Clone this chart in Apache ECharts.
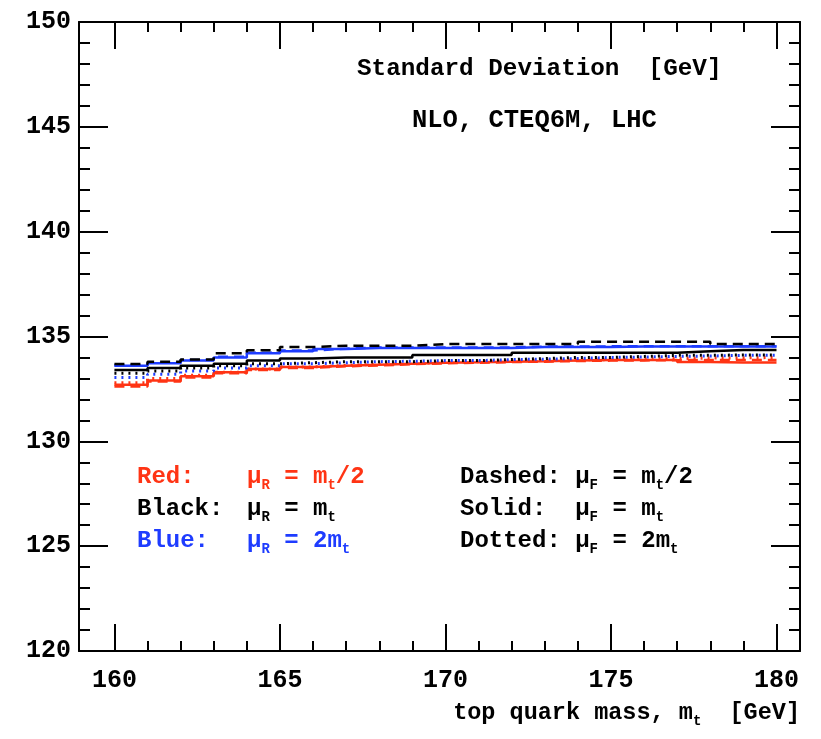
<!DOCTYPE html>
<html>
<head>
<meta charset="utf-8">
<script src="https://cdn.jsdelivr.net/npm/echarts@6/dist/echarts.min.js"></script>
<style>html,body{margin:0;padding:0;background:#fff}#c{width:821px;height:739px}</style>
</head>
<body>
<div id="c"></div>
<script>
// top quark mass (GeV)
const masses = [160,161,162,163,164,165,166,167,168,169,170,171,172,173,174,175,176,177,178,179,180];
// standard deviation (GeV); colour = mu_R choice, style = mu_F choice
const blackDashed = [133.69,133.80,133.90,134.20,134.35,134.50,134.56,134.56,134.56,134.64,134.64,134.64,134.64,134.64,134.75,134.75,134.75,134.75,134.64,134.64,134.64];
const blueSolid   = [133.60,133.72,133.85,134.00,134.20,134.30,134.40,134.45,134.45,134.45,134.45,134.45,134.50,134.50,134.50,134.52,134.52,134.52,134.52,134.52,134.52];
const blueDashed  = [133.63,133.75,133.88,134.03,134.22,134.33,134.42,134.47,134.47,134.47,134.47,134.48,134.52,134.52,134.53,134.54,134.54,134.54,134.54,134.54,134.54];
const blackSolid  = [133.40,133.50,133.60,133.70,133.85,133.95,134.00,134.00,134.00,134.12,134.12,134.12,134.23,134.23,134.23,134.23,134.23,134.30,134.36,134.36,134.36];
const blackDotted = [133.25,133.35,133.50,133.60,133.70,133.75,133.80,133.80,133.80,133.85,133.85,133.90,133.95,134.00,134.00,134.05,134.10,134.10,134.12,134.12,134.12];
const blueDotted  = [133.05,133.20,133.35,133.50,133.60,133.70,133.75,133.80,133.82,133.85,133.85,133.90,133.92,133.95,134.00,134.02,134.05,134.07,134.10,134.10,134.10];
const redSolid    = [132.70,132.90,133.10,133.30,133.45,133.55,133.60,133.65,133.70,133.75,133.77,133.80,133.82,133.85,133.88,133.88,133.88,133.78,133.76,133.76,133.76];
const redDashed   = [132.62,132.85,133.05,133.25,133.40,133.50,133.58,133.62,133.68,133.72,133.75,133.78,133.80,133.83,133.85,133.86,133.87,133.88,133.88,133.88,133.90];
const redDotted   = [132.80,133.00,133.15,133.30,133.45,133.55,133.62,133.68,133.72,133.76,133.80,133.83,133.86,133.88,133.90,133.92,133.95,133.97,133.98,134.00,134.00];
// axis ticks and labels
const xMajorTicks = [160,165,170,175,180];
const xMinorTicks = [161,162,163,164,166,167,168,169,171,172,173,174,176,177,178,179];
const yTickValues = [120,125,130,135,140,145,150];

const RED = '#ff3414', BLUE = '#1e3cff', BLACK = '#000';
const FONT = 'Liberation Mono';
const XMIN = 158.93, XMAX = 180.71;

function mk(name, color, style, vals, z) {
  let t = 'solid';
  if (style === 'dashed') t = [10, 6];
  if (style === 'dotted') t = [2, 5];
  return {
    name, type: 'line', step: 'end', showSymbol: false, symbol: 'none', z: z,
    data: masses.map((m, i) => [m, vals[i]]),
    lineStyle: {color, width: style === 'dotted' ? 3 : 2.5, type: t},
    silent: true
  };
}

const tickStyle = {color: BLACK, width: 2};
function xAx(pos, major, labels) {
  return {
    type: 'value', position: pos, min: XMIN, max: XMAX,
    axisLine: {show: major, onZero: false, lineStyle: {color: BLACK, width: 2}},
    axisTick: {show: true, inside: true, length: major ? 27 : 10,
      customValues: major ? xMajorTicks : xMinorTicks, lineStyle: tickStyle},
    axisLabel: labels ? {show: true, customValues: xMajorTicks, margin: 17,
      fontFamily: FONT, fontWeight: 'bold', fontSize: 25, color: BLACK} : {show: false},
    splitLine: {show: false}
  };
}
function yAx(pos, labels) {
  return {
    type: 'value', position: pos, min: yTickValues[0], max: yTickValues[yTickValues.length - 1], interval: 5,
    axisLine: {show: true, onZero: false, lineStyle: {color: BLACK, width: 2}},
    axisTick: {show: true, inside: true, length: 29, lineStyle: tickStyle},
    minorTick: {show: true, splitNumber: 5, length: 11, lineStyle: tickStyle},
    axisLabel: labels ? {show: true, margin: 8, fontFamily: FONT, fontWeight: 'bold',
      fontSize: 25, color: BLACK} : {show: false},
    splitLine: {show: false}, minorSplitLine: {show: false}
  };
}

function rich(color, size) {
  return {
    a: {fontFamily: FONT, fontWeight: 'bold', fontSize: size, lineHeight: 30, fill: color},
    s: {fontFamily: FONT, fontWeight: 'bold', fontSize: 14, lineHeight: 14, verticalAlign: 'bottom', fill: color}
  };
}
function txt(x, y, text, color, align, size) {
  size = size || 24;
  return {type: 'text', x, y, z: 100, silent: true,
    style: {text, rich: rich(color, size), fill: color, align: align || 'left', verticalAlign: 'middle',
      fontFamily: FONT, fontWeight: 'bold', fontSize: size}};
}

const chart = echarts.init(document.getElementById('c'), null, {renderer: 'canvas'});
chart.setOption({
  animation: false,
  backgroundColor: '#fff',
  grid: {left: 79, right: 21, top: 22, bottom: 88, containLabel: false},
  xAxis: [xAx('bottom', true, true), xAx('bottom', false, false), xAx('top', true, false), xAx('top', false, false)],
  yAxis: [yAx('left', true), yAx('right', false)],
  series: [
    mk('Red dotted', RED, 'dotted', redDotted, 2),
    mk('Red dashed', RED, 'dashed', redDashed, 2),
    mk('Red solid', RED, 'solid', redSolid, 2),
    mk('Blue dotted', BLUE, 'dotted', blueDotted, 3),
    mk('Black dotted', BLACK, 'dotted', blackDotted, 4),
    mk('Black solid', BLACK, 'solid', blackSolid, 4),
    mk('Blue dashed', BLUE, 'dashed', blueDashed, 3),
    mk('Blue solid', BLUE, 'solid', blueSolid, 3),
    mk('Black dashed', BLACK, 'dashed', blackDashed, 5)
  ],
  graphic: [
    txt(357, 69, '{a|Standard Deviation  [GeV]}', BLACK, 'left', 24.3),
    txt(412, 121, '{a|NLO, CTEQ6M, LHC}', BLACK, 'left', 25.5),
    txt(137, 477, '{a|Red:}', RED),
    txt(137, 509, '{a|Black:}', BLACK),
    txt(137, 541, '{a|Blue:}', BLUE),
    txt(247, 477, '{a|μ}{s|R}{a| = m}{s|t}{a|/2}', RED),
    txt(247, 509, '{a|μ}{s|R}{a| = m}{s|t}', BLACK),
    txt(247, 541, '{a|μ}{s|R}{a| = 2m}{s|t}', BLUE),
    txt(460, 477, '{a|Dashed: μ}{s|F}{a| = m}{s|t}{a|/2}', BLACK),
    txt(460, 509, '{a|Solid:  μ}{s|F}{a| = m}{s|t}', BLACK),
    txt(460, 541, '{a|Dotted: μ}{s|F}{a| = 2m}{s|t}', BLACK),
    txt(800, 713, '{a|top quark mass, m}{s|t}{a|  [GeV]}', BLACK, 'right', 23.5)
  ]
});
</script>
</body>
</html>
